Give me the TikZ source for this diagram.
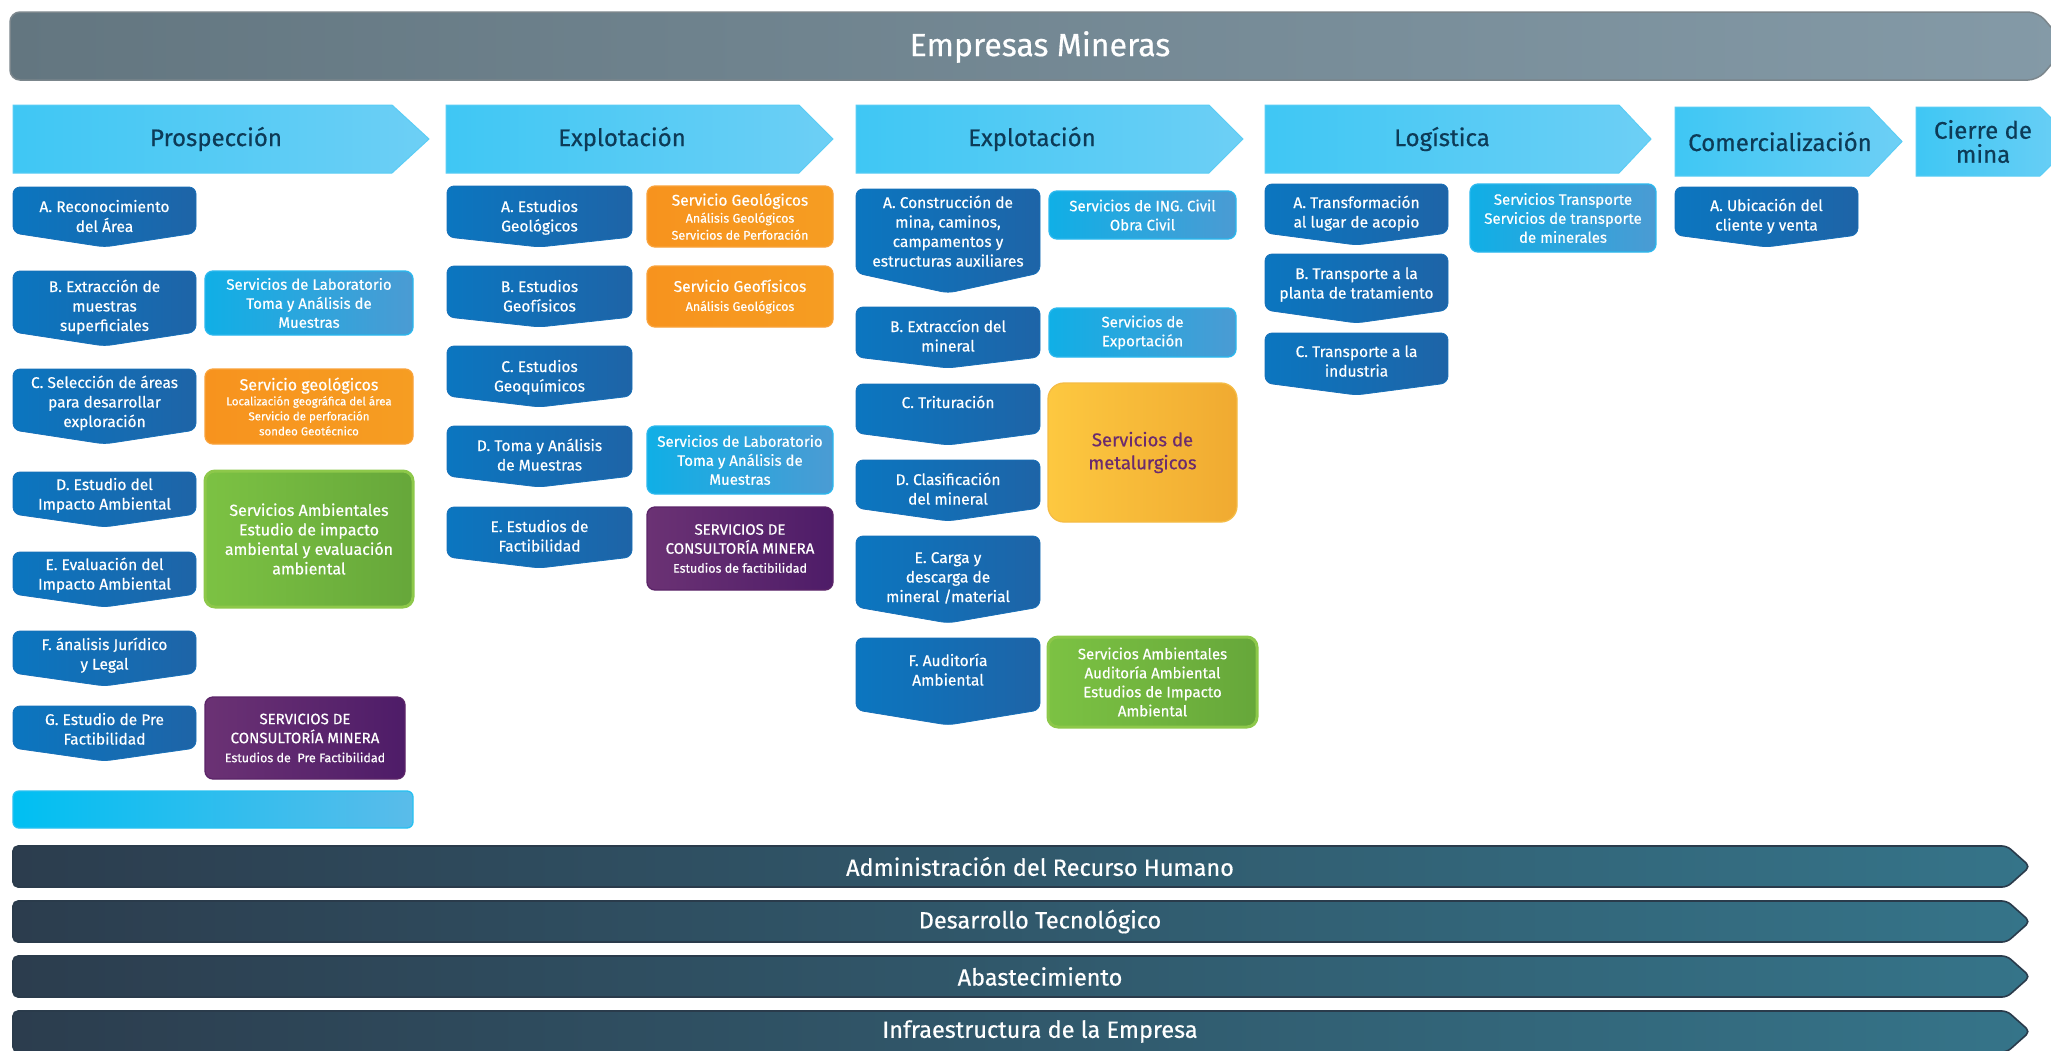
\documentclass[tikz,border=0pt]{standalone}
\usepackage{fontspec}
\setmainfont{Fira Sans}[FakeBold=0.5]
\definecolor{stepL}{HTML}{0B76C0}\definecolor{stepR}{HTML}{1E64A7}\definecolor{stepB}{HTML}{1870B8}
\definecolor{lbL}{HTML}{10AFE6}\definecolor{lbR}{HTML}{4B9BD3}\definecolor{lbB}{HTML}{2AB8EE}
\definecolor{orL}{HTML}{F7931E}\definecolor{orR}{HTML}{F69D22}\definecolor{orB}{HTML}{F9A23A}
\definecolor{puL}{HTML}{6B3274}\definecolor{puR}{HTML}{4E1C68}\definecolor{puB}{HTML}{5B2468}
\definecolor{grL}{HTML}{7CC243}\definecolor{grR}{HTML}{66A73A}\definecolor{grB}{HTML}{8DC84A}
\definecolor{yeL}{HTML}{FDC840}\definecolor{yeR}{HTML}{F0AA31}\definecolor{yeB}{HTML}{F5BC45}
\definecolor{phL}{HTML}{3FC7F4}\definecolor{phR}{HTML}{6DCFF5}\definecolor{phB}{HTML}{5ACDF5}
\definecolor{phT}{HTML}{0D3B57}
\definecolor{hdL}{HTML}{637680}\definecolor{hdR}{HTML}{849AA7}\definecolor{hdB}{HTML}{7B868C}
\definecolor{barL}{HTML}{2C3D4E}\definecolor{barR}{HTML}{357489}\definecolor{barB}{HTML}{2A3B4B}
\definecolor{cyL}{HTML}{00BFF2}\definecolor{cyR}{HTML}{5ABCEA}\definecolor{cyB}{HTML}{27C1F1}
\definecolor{metT}{HTML}{6B2B6E}
\newcommand\StepBox[8]{%
  \path[stepfill] (#2,#4) -- (#3,#4) -- (#3,#5) -- ({(#2+#3)/2},#6) -- (#2,#5) -- cycle;
  \node[steptext,anchor=base] (#1) at ({(#2+#3)/2},#7) {\begin{tabular}[t]{@{}c@{}}#8\end{tabular}};}
\newcommand\SvcBox[8]{%
  \path[#1] (#4,#6) rectangle (#5,#7);
  \node[svctext,#2] (#3) at ({(#4+#5)/2},{(#6+#7)/2}) {#8};}
\newcommand\PhaseBox[8]{%
  \path[phasefill] (#2,#5) -- (#3,#5) -- (#4,{(#5+#6)/2}) -- (#3,#6) -- (#2,#6) -- cycle;
  \node[phasetext] (#1) at (#7,{(#5+#6)/2}) {#8};}
\newcommand\BottomBar[4]{%
  \path[barfill] (13,#2) -- (2007,#2) -- (2030,{(#2+#3)/2}) -- (2007,#3) -- (13,#3) -- cycle;
  \node[bartext] (#1) at (1040,{(#2+#3)/2}) {#4};}
\begin{document}
\begin{tikzpicture}[x=1pt,y=-1pt,
  stepfill/.style={rounded corners=7pt,left color=stepL,right color=stepR,draw=stepB,line width=0.8pt},
  steptext/.style={text=white,inner sep=0pt,font=\fontsize{15.5}{19.5}\selectfont},
  svc/.style={rounded corners=8pt,line width=1.3pt},
  lbbox/.style={svc,left color=lbL,right color=lbR,draw=lbB},
  orbox/.style={svc,left color=orL,right color=orR,draw=orB},
  pubox/.style={svc,left color=puL,right color=puR,draw=puB},
  grbox/.style={svc,rounded corners=10pt,left color=grL,right color=grR,draw=grB,line width=3pt},
  yebox/.style={svc,rounded corners=16pt,left color=yeL,right color=yeR,draw=yeB},
  svctext/.style={text=white,inner sep=0pt,align=center,font=\fontsize{15}{19}\selectfont},
  phasefill/.style={left color=phL,right color=phR,draw=phB,line width=1pt},
  phasetext/.style={text=phT,inner sep=0pt,align=center,font=\fontsize{24}{24}\selectfont},
  barfill/.style={rounded corners=5pt,left color=barL,right color=barR,draw=barB,line width=1.6pt},
  bartext/.style={text=white,inner sep=0pt,font=\fontsize{23.5}{23.5}\selectfont},
]
\useasboundingbox (0,0) rectangle (2051,1050);
\fill[white] (0,0) rectangle (2051,1050);
% header
\path[rounded corners=10pt,left color=hdL,right color=hdR,draw=hdB,line width=1.5pt]
  (10,12) -- (2038,12) -- (2067,46) -- (2038,80) -- (10,80) -- cycle;
\node[text=white,inner sep=0pt,font=\fontsize{32}{32}\selectfont] (hdr) at (1040,47) {Empresas Mineras};
% phases
\PhaseBox{ph1}{13}{392}{429}{105}{173}{216}{Prospección}
\PhaseBox{ph2}{446}{799}{833}{105}{173}{622}{Explotación}
\PhaseBox{ph3}{856}{1209}{1243}{105}{173}{1032}{Explotación}
\PhaseBox{ph4}{1265}{1619}{1651}{105}{173}{1442}{Logística}
\PhaseBox{ph5}{1675}{1869}{1902}{107}{176}{1780}{Comercialización}
\PhaseBox{ph6}{1916}{2040}{2075}{107}{176}{1983}{Cierre de\\mina}
% Prospeccion steps
\StepBox{pa}{13}{196}{187}{233}{247}{212}{A. Reconocimiento\\del Área}
\StepBox{pb}{13}{196}{271}{332}{346}{292}{B. Extracción de\\muestras\\superficiales}
\StepBox{pc}{13}{196}{369}{430}{444}{388}{C. Selección de áreas\\para desarrollar\\exploración}
\StepBox{pd}{13}{196}{472}{514}{527}{490}{D. Estudio del\\Impacto Ambiental}
\StepBox{pe}{13}{196}{552}{594}{607}{570}{E. Evaluación del\\Impacto Ambiental}
\StepBox{pf}{13}{196}{631}{673}{686}{650}{F. ánalisis Jurídico\\y Legal}
\StepBox{pg}{13}{196}{706}{748}{761}{725}{G. Estudio de Pre\\Factibilidad}
% Prospeccion services
\SvcBox{lbbox}{}{psb}{205}{413}{271}{335}{Servicios de Laboratorio\\Toma y Análisis de\\Muestras}
\SvcBox{orbox}{font=\fontsize{11.5}{15}\selectfont}{psc}{205}{413}{369}{444}{{\fontsize{16}{16}\selectfont Servicio geológicos}\\Localización geográfica del área\\Servicio de perforación\\sondeo Geotécnico}
\SvcBox{grbox}{font=\fontsize{16}{19.5}\selectfont}{psd}{205}{413}{471}{607}{Servicios Ambientales\\Estudio de impacto\\ambiental y evaluación\\ambiental}
\SvcBox{pubox}{font=\fontsize{12.5}{19}\selectfont}{psg}{205}{405}{697}{779}{{\fontsize{15}{15}\selectfont SERVICIOS DE}\\{\fontsize{15}{15}\selectfont CONSULTORÍA MINERA}\\Estudios de\ \ Pre Factibilidad}
\path[svc,rounded corners=6pt,left color=cyL,right color=cyR,draw=cyB] (13,791) rectangle (413,828);
% Explotacion 1 steps
\StepBox{ea}{447}{632}{186}{237}{247}{212}{A. Estudios\\Geológicos}
\StepBox{eb}{447}{632}{266}{317}{327}{292}{B. Estudios\\Geofísicos}
\StepBox{ec}{447}{632}{346}{396}{407}{372}{C. Estudios\\Geoquímicos}
\StepBox{ed}{447}{632}{426}{476}{487}{451}{D. Toma y Análisis\\de Muestras}
\StepBox{ee}{447}{632}{507}{557}{568}{532}{E. Estudios de\\Factibilidad}
% Explotacion 1 services
\SvcBox{orbox}{font=\fontsize{12.5}{17}\selectfont}{esa}{647}{833}{186}{247}{{\fontsize{15.5}{15}\selectfont Servicio Geológicos}\\Análisis Geológicos\\Servicios de Perforación}
\SvcBox{orbox}{font=\fontsize{12.5}{19}\selectfont}{esb}{647}{833}{266}{327}{{\fontsize{15.5}{15}\selectfont Servicio Geofísicos}\\Análisis Geológicos}
\SvcBox{lbbox}{}{esd}{647}{833}{426}{494}{Servicios de Laboratorio\\Toma y Análisis de\\Muestras}
\SvcBox{pubox}{font=\fontsize{12.5}{19}\selectfont}{ese}{647}{833}{507}{590}{{\fontsize{15}{15}\selectfont SERVICIOS DE}\\{\fontsize{15}{15}\selectfont CONSULTORÍA MINERA}\\Estudios de factibilidad}
% Explotacion 2 steps
\StepBox{xa}{856}{1040}{189}{273}{293}{208}{A. Construcción de\\mina, caminos,\\campamentos y\\estructuras auxiliares}
\StepBox{xb}{856}{1040}{307}{357}{368}{332}{B. Extraccíon del\\mineral}
\StepBox{xc}{856}{1040}{384}{433}{445}{408}{C. Trituración}
\StepBox{xd}{856}{1040}{460}{508}{521}{485}{D. Clasificación\\del mineral}
\StepBox{xe}{856}{1040}{536}{607}{623}{563}{E. Carga y\\descarga de\\mineral /material}
\StepBox{xf}{856}{1040}{638}{710}{725}{666}{F. Auditoría\\Ambiental}
% Explotacion 2 services
\SvcBox{lbbox}{}{xsa}{1049}{1236}{191}{239}{Servicios de ING. Civil\\Obra Civil}
\SvcBox{lbbox}{}{xsb}{1049}{1236}{308}{357}{Servicios de\\Exportación}
\SvcBox{yebox}{text=metT,font=\fontsize{18.5}{23}\selectfont}{xsc}{1048}{1237}{383}{522}{Servicios de\\metalurgicos}
\SvcBox{grbox}{}{xsf}{1048}{1257}{637}{727}{Servicios Ambientales\\Auditoría Ambiental\\Estudios de Impacto\\Ambiental}
% Logistica
\StepBox{la}{1265}{1448}{184}{233}{245}{208}{A. Transformación\\al lugar de acopio}
\StepBox{lb}{1265}{1448}{254}{310}{323}{279}{B. Transporte a la\\planta de tratamiento}
\StepBox{lc}{1265}{1448}{333}{383}{395}{357}{C. Transporte a la\\industria}
\SvcBox{lbbox}{}{lsa}{1470}{1656}{184}{252}{Servicios Transporte\\Servicios de transporte\\de minerales}
% Comercializacion
\StepBox{ca}{1675}{1858}{187}{235}{247}{211}{A. Ubicación del\\cliente y venta}
% bottom bars
\BottomBar{b1}{846}{887}{Administración del Recurso Humano}
\BottomBar{b2}{901}{942}{Desarrollo Tecnológico}
\BottomBar{b3}{956}{997}{Abastecimiento}
\BottomBar{b4}{1011}{1052}{Infraestructura de la Empresa}
\end{tikzpicture}
\end{document}
